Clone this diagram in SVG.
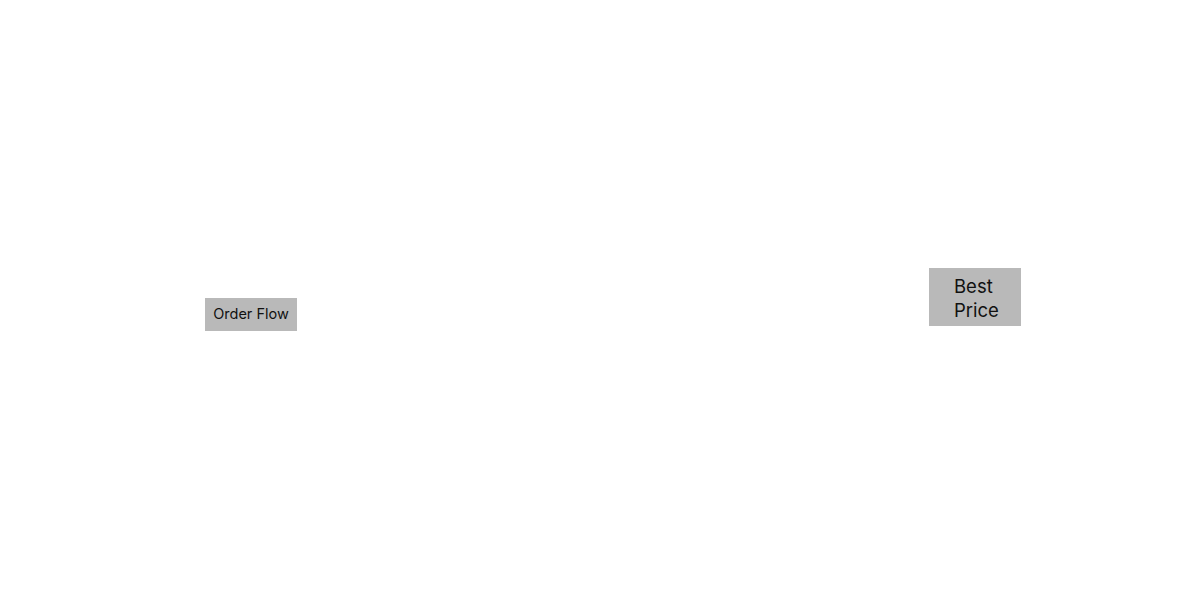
<svg xmlns="http://www.w3.org/2000/svg" width="1177" height="606" viewBox="0 0 1177 606">
<style>
.box{fill:#b9b9b9;}
.lbl{font-family:Inter,"Noto Sans","Liberation Sans",sans-serif;fill:#111;}
</style>
<rect width="1177" height="606" fill="#ffffff"/>
<g id="connectors"></g>
<g id="node-order-flow">
<rect class="box" x="205" y="298" width="92" height="33"/>
<text class="lbl" x="251" y="319" font-size="14.5" text-anchor="middle">Order Flow</text>
</g>
<g id="node-best-price">
<rect class="box" x="929" y="268" width="92" height="58"/>
<text class="lbl" x="954" y="293" font-size="18.5">Best</text>
<text class="lbl" x="954" y="317" font-size="18.5">Price</text>
</g>
</svg>
